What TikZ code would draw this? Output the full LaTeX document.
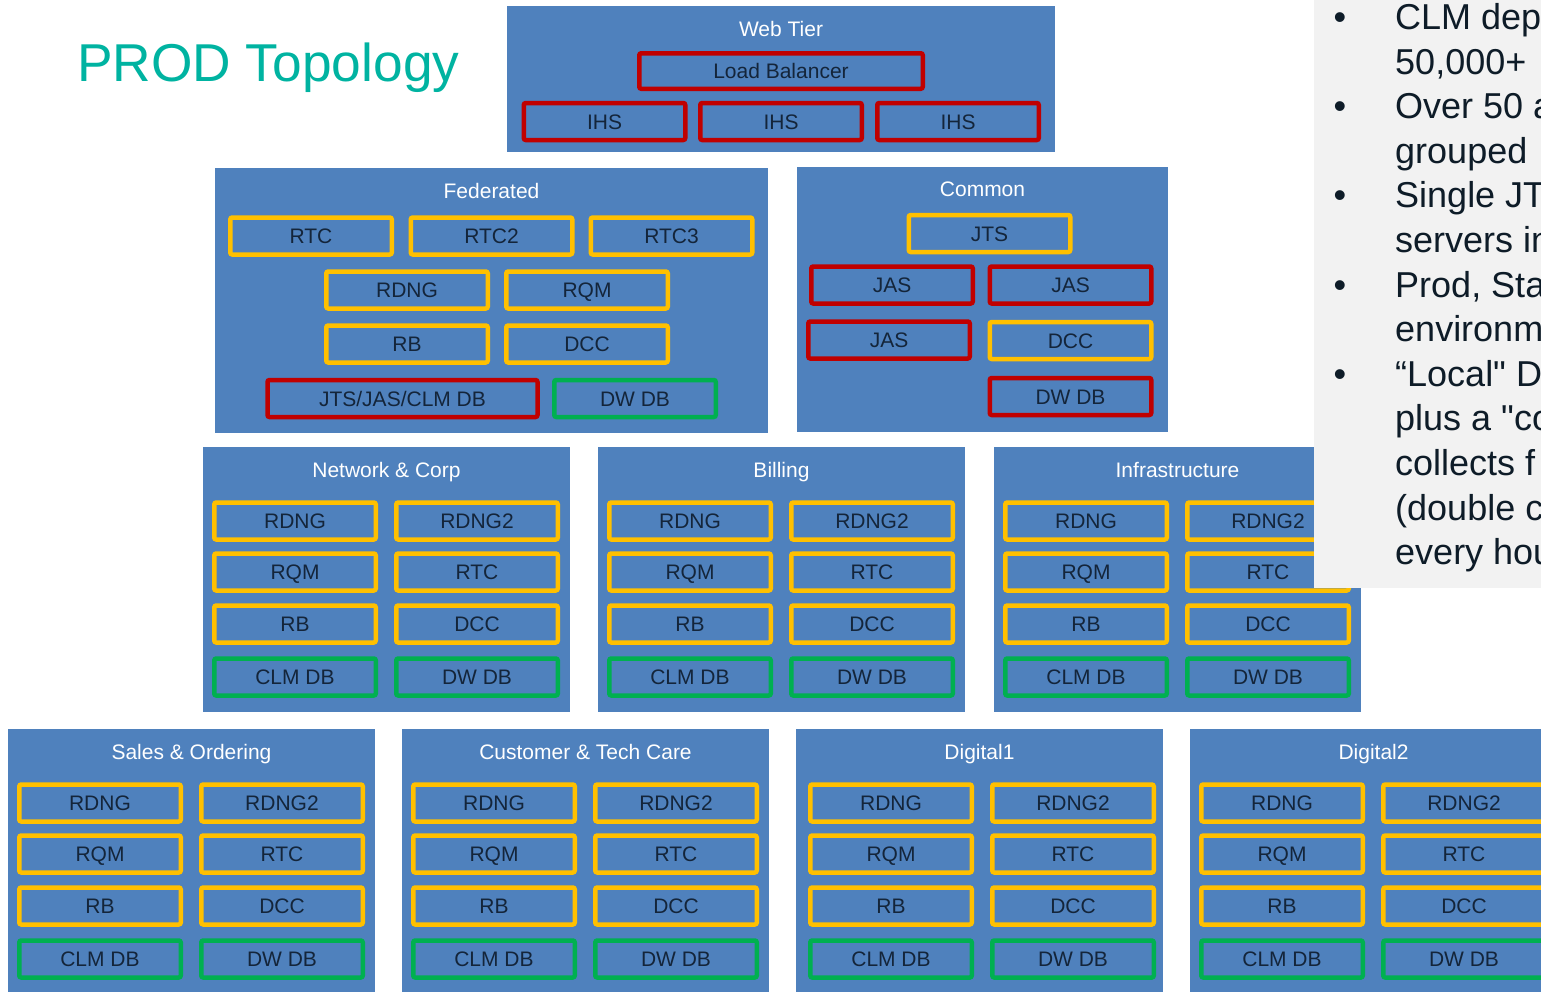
\documentclass[tikz,border=0pt]{standalone}
\usepackage{fontspec}
\setmainfont{Liberation Sans}
\newfontfamily\rawquotes{Liberation Sans}[Ligatures=TeXOff]

\definecolor{tierblue}{HTML}{4F81BD}
\definecolor{appgold}{HTML}{FFC000}
\definecolor{corered}{HTML}{C00000}
\definecolor{dbgreen}{HTML}{00B050}
\definecolor{srvtext}{HTML}{14253A}
\definecolor{prodteal}{HTML}{00B3A1}
\definecolor{notegray}{HTML}{F2F2F2}
\definecolor{notetext}{HTML}{0E1C28}

\newcommand{\boxfont}{\fontsize{21}{25}\selectfont}
\newcommand{\notefont}{\rawquotes\fontsize{36}{43}\selectfont}
\newcommand{\prodfont}{\fontsize{53.3}{62}\selectfont}

\tikzset{
  tier/.style={fill=tierblue, inner sep=0, anchor=north west},
  tiertitle/.style={text=white, font=\boxfont, text height=15, text depth=0, inner sep=0},
  srv/.style={draw, line width=4.5, rounded corners=2, fill=tierblue, text=srvtext,
    font=\boxfont, text height=15, text depth=0, inner sep=0,
    minimum width=161.5, minimum height=37},
  appbox/.style={srv, draw=appgold},
  corebox/.style={srv, draw=corered},
  dbbox/.style={srv, draw=dbgreen},
  noteline/.style={anchor=west, text=notetext, font=\notefont, text height=26, text depth=0, inner sep=0}
}

\begin{document}
\begin{tikzpicture}[x=1pt,y=-1pt]
		\useasboundingbox (0,0) rectangle (1541,991);
		\clip (0,0) rectangle (1541,991);
		\node [anchor=west, text=prodteal, font=\prodfont, text height=38, text depth=0, inner sep=0] (title) at (77,62.5) {PROD Topology};

		\node [tier, minimum width=548, minimum height=146] (web) at (507,6) {};
		\node [tiertitle] (web-t) at (781,29) {Web Tier};
		\node [corebox, minimum width=283.5, minimum height=35.5] (lb) at (781,71) {Load Balancer};
		\node [corebox] (ihs1) at (604.5,121.5) {IHS};
		\node [corebox] (ihs2) at (781,121.5) {IHS};
		\node [corebox] (ihs3) at (958,121.5) {IHS};

		\node [tier, minimum width=553, minimum height=265] (fed) at (215,168) {};
		\node [tiertitle] (fed-t) at (491.5,191) {Federated};
		\node [appbox] (fed-rtc) at (311,236) {RTC};
		\node [appbox] (fed-rtc2) at (491.5,236) {RTC2};
		\node [appbox] (fed-rtc3) at (671.5,236) {RTC3};
		\node [appbox] (fed-rdng) at (407,290) {RDNG};
		\node [appbox] (fed-rqm) at (587,290) {RQM};
		\node [appbox] (fed-rb) at (407,344) {RB};
		\node [appbox] (fed-dcc) at (587,344) {DCC};
		\node [corebox, minimum width=270] (fed-clm) at (402.5,398.5) {JTS/JAS/CLM DB};
		\node [dbbox] (fed-dw) at (635,398.5) {DW DB};

		\node [tier, minimum width=371, minimum height=265] (com) at (797,167) {};
		\node [tiertitle] (com-t) at (982.5,189) {Common};
		\node [appbox] (com-jts) at (989.5,233.5) {JTS};
		\node [corebox] (com-jas1) at (892,285) {JAS};
		\node [corebox] (com-jas2) at (1070.5,285) {JAS};
		\node [corebox] (com-jas3) at (889,340) {JAS};
		\node [appbox] (com-dcc) at (1070.5,340.5) {DCC};
		\node [corebox] (com-dw) at (1070.5,396.5) {DW DB};

		\foreach \gx/\gy/\gname/\gid/\dx in {203/447/Network \& Corp/net/0, 598/447/Billing/bill/0, 994/447/Infrastructure/infra/0,
				8/729/Sales \& Ordering/sales/0, 402/729/Customer \& Tech Care/care/0, 796/729/Digital1/dig1/3, 1190/729/Digital2/dig2/0}
		{
			\node [tier, minimum width=367, minimum height=265] (\gid) at (\gx,\gy) {};
			\node [tiertitle] (\gid-t) at (\gx+183.5,\gy+23) {\gname};
			\foreach \lname/\rname/\ry/\rw in {RDNG/RDNG2/74/1, RQM/RTC/125/2, RB/DCC/177/3}
			{
				\node [appbox] (\gid-l\rw) at (\gx+\dx+92,\gy+\ry) {\lname};
				\node [appbox] (\gid-r\rw) at (\gx+\dx+274,\gy+\ry) {\rname};
			}
			\node [dbbox] (\gid-l4) at (\gx+\dx+92,\gy+230) {CLM DB};
			\node [dbbox] (\gid-r4) at (\gx+\dx+274,\gy+230) {DW DB};
		}

		\node [fill=notegray, inner sep=0, anchor=north west, minimum width=240, minimum height=588] (notes) at (1314,0) {};
		\node [noteline] (note1) at (1395,16.5) {CLM dep};
		\node [noteline] (note2) at (1395,61.1) {50,000+};
		\node [noteline] (note3) at (1395,105.7) {Over 50 a};
		\node [noteline] (note4) at (1395,150.3) {grouped};
		\node [noteline] (note5) at (1395,194.9) {Single JT};
		\node [noteline] (note6) at (1395,239.5) {servers in};
		\node [noteline] (note7) at (1395,284.1) {Prod, Sta};
		\node [noteline] (note8) at (1395,328.7) {environm};
		\node [noteline] (note9) at (1395,373.3) {“Local" D};
		\node [noteline] (note10) at (1395,417.9) {plus a "co};
		\node [noteline] (note11) at (1395,462.5) {collects f};
		\node [noteline] (note12) at (1395,507.1) {(double c};
		\node [noteline] (note13) at (1395,551.7) {every hou};
		\foreach \by in {16.5,105.7,194.9,284.1,373.3}
			\node [noteline, anchor=center] at (1340,\by) {•};
		\end{tikzpicture}
\end{document}
